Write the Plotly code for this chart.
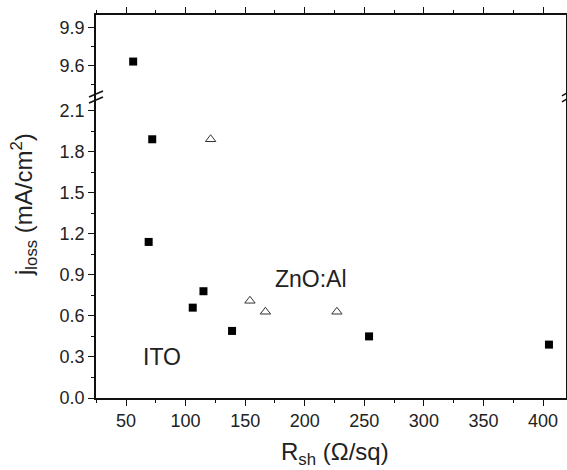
import plotly.graph_objects as go

# ---- data ----
ito_x = [56, 72, 69, 106, 115, 139, 254, 405]
ito_y = [9.63, 1.89, 1.14, 0.66, 0.78, 0.49, 0.45, 0.39]
zno_x = [121, 154, 167, 227]
zno_y = [1.89, 0.71, 0.63, 0.63]
lower_ticks = [0.0, 0.3, 0.6, 0.9, 1.2, 1.5, 1.8, 2.1]
upper_ticks = [9.6, 9.9]
x_ticks = [50, 100, 150, 200, 250, 300, 350, 400]

# broken-axis geometry (lower segment 0..2.17, upper segment 9.38..10.0)
LOW_TOP = 2.17
UP_BOT, UP_TOP = 9.38, 10.0
GAP = 0.058
UP_SCALE = 0.919

def ymap(v):
    if v <= LOW_TOP:
        return v
    return LOW_TOP + GAP + (v - UP_BOT) * UP_SCALE

y_top = ymap(UP_TOP)

x_minor = [25] + [t + 25 for t in x_ticks]
low_minor = [round(t + 0.15, 2) for t in lower_ticks if t + 0.15 <= LOW_TOP]
up_minor = [9.45, 9.75]

FONT = "Liberation Sans, Arial, sans-serif"
W, H = 567, 470
ML, MR, MT, MB = 96, 1, 15, 72
PW, PH = W - ML - MR, H - MT - MB
px = 1.0 / PW
py = 1.0 / PH

xr = [24.8, 419.3]
axcol = "#111111"

fig = go.Figure()
fig.add_trace(go.Scatter(x=ito_x, y=[ymap(v) for v in ito_y], mode="markers",
                         marker=dict(symbol="square", size=8, color="black", line=dict(width=0)),
                         showlegend=False))
fig.add_trace(go.Scatter(x=zno_x, y=[ymap(v) for v in zno_y], mode="markers",
                         marker=dict(symbol="triangle-up-open", size=9, color="#333333",
                                     line=dict(width=1)),
                         showlegend=False))

tickfont = dict(family=FONT, size=18, color="#222222")

fig.update_layout(
    width=W, height=H,
    margin=dict(l=ML, r=MR, t=MT, b=MB),
    paper_bgcolor="white", plot_bgcolor="white",
    font=dict(family=FONT, color="#222222"),
    showlegend=False,
    xaxis=dict(range=xr, tickvals=x_ticks, ticks="outside", ticklen=6, tickwidth=1.3,
               tickcolor=axcol, showline=True, mirror="ticks", linecolor=axcol, linewidth=1.5,
               minor=dict(tickvals=x_minor, ticks="outside", ticklen=3, tickwidth=1.3, tickcolor=axcol),
               showgrid=False, zeroline=False, tickfont=tickfont, automargin=False),
    yaxis=dict(range=[0, y_top],
               tickvals=[ymap(v) for v in lower_ticks] + [ymap(v) for v in upper_ticks],
               ticktext=[f"{v:.1f}" for v in lower_ticks] + [f"{v:.1f}" for v in upper_ticks],
               ticks="outside", ticklen=6, tickwidth=1.3, tickcolor=axcol,
               showline=True, mirror="ticks", linecolor=axcol, linewidth=1.5,
               minor=dict(tickvals=[ymap(v) for v in low_minor] + [ymap(v) for v in up_minor],
                          ticks="outside", ticklen=3, tickwidth=1.3, tickcolor=axcol),
               showgrid=False, zeroline=False, tickfont=tickfont, automargin=False),
)

# break marks on left and right axes
yb = (LOW_TOP + GAP / 2) / y_top
for yc in [yb + 3 * py, yb - 3 * py]:
    fig.add_shape(type="line", xref="paper", yref="paper",
                  x0=-7 * px, x1=7 * px, y0=yc - 3 * py, y1=yc + 3 * py,
                  line=dict(color=axcol, width=1.5))
    fig.add_shape(type="line", xref="paper", yref="paper",
                  x0=1 - 4 * px, x1=1 + 1 * px, y0=yc - 2 * py, y1=yc + 1 * py,
                  line=dict(color=axcol, width=1.5))

# text labels
fig.add_annotation(x=205, y=0.87, xref="x", yref="y", text="ZnO:Al", showarrow=False,
                   font=dict(family=FONT, size=23, color="#222222"))
fig.add_annotation(x=80, y=0.30, xref="x", yref="y", text="ITO", showarrow=False,
                   font=dict(family=FONT, size=23, color="#222222"))

# axis titles
fig.add_annotation(x=(335 - ML) / PW, y=0, xref="paper", yref="paper", yshift=-(453 - (H - MB)),
                   text="R<sub>sh</sub> (Ω/sq)", showarrow=False, yanchor="middle",
                   font=dict(family=FONT, size=24, color="#222222"))
fig.add_annotation(x=0, y=(H - MB - 205) / PH, xref="paper", yref="paper", xshift=24 - ML,
                   text="j<sub>loss</sub> (mA/cm<sup>2</sup>)", showarrow=False, textangle=-90,
                   xanchor="center", font=dict(family=FONT, size=24, color="#222222"))

fig.write_html("out.html")
